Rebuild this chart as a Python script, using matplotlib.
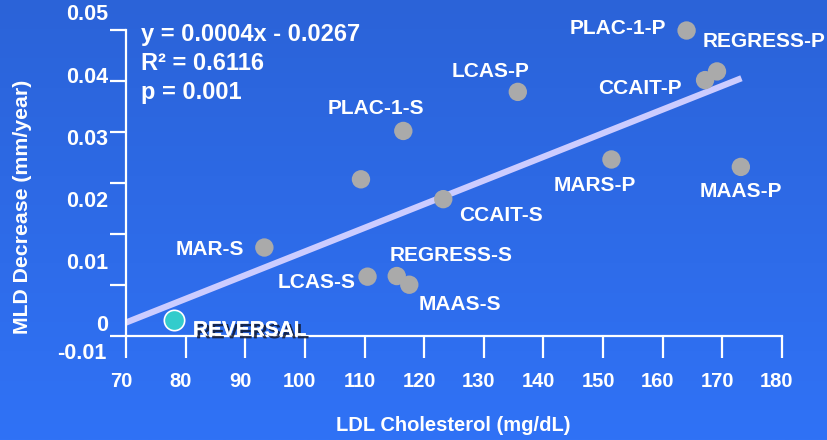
import numpy as np
import matplotlib
matplotlib.use("Agg")
import matplotlib.pyplot as plt
import matplotlib.patheffects as pe
from matplotlib.transforms import ScaledTranslation

plt.rcParams['font.family'] = ['Liberation Sans', 'DejaVu Sans']
plt.rcParams['font.weight'] = 'bold'

# LDL cholesterol (mg/dL) and MLD decrease (mm/year)
names = ['PLAC-1-P', 'REGRESS-P', 'CCAIT-P', 'MARS-P', 'MAAS-P', 'LCAS-P',
         'PLAC-1-S', '', 'CCAIT-S', 'MAR-S', 'LCAS-S', 'REGRESS-S', 'MAAS-S']
ldl = [164.0, 169.1, 167.1, 151.4, 173.1, 135.7,
       116.5, 109.4, 123.2, 93.2, 110.5, 115.4, 117.5]
mld = [0.0475, 0.0409, 0.0395, 0.0267, 0.0255, 0.0376,
       0.0313, 0.0235, 0.0203, 0.0125, 0.0078, 0.0079, 0.0065]

reversal_ldl = 78.0
reversal_mld = 0.0008

# regression line end points
fit_x = [70, 173.2]
fit_y = [0.0004, 0.0398]

xticks = [70, 80, 90, 100, 110, 120, 130, 140, 150, 160, 170, 180]
ylabels = [0.05, 0.04, 0.03, 0.02, 0.01, 0]

# label offsets from each point (pixels)
offsets = [(-69, 2), (47, 30), (-65, -8), (-17, -26), (0, -25), (-27, 20),
           (-27, 22), (0, 0), (58, -16), (-54, -2), (-51, -6), (54, 21), (51, -20)]

fig = plt.figure(figsize=(8.28, 4.4), dpi=100)

# background gradient
bg = fig.add_axes([0, 0, 1, 1], zorder=-10)
top = np.array([43, 99, 216]) / 255
bot = np.array([48, 114, 246]) / 255
t = np.linspace(0, 1, 256)[:, None]
grad = top[None, :] * (1 - t) + bot[None, :] * t
bg.imshow(grad[:, None, :], aspect='auto', extent=[0, 1, 0, 1])
bg.axis('off')

ax = fig.add_axes([126 / 828, 104 / 440, 656 / 828, 306 / 440])
ax.set_facecolor('none')
ax.set_xlim(70, 180)
ax.set_ylim(-0.00177, 0.04758)

ax.plot(fit_x, fit_y, color='#CCCCFF', lw=4.5, solid_capstyle='butt', zorder=2)
ax.scatter(ldl, mld, s=175, color='#AAAAAA', edgecolors='none', zorder=3, clip_on=False)
ax.scatter([reversal_ldl], [reversal_mld], s=215, color='#33CCCC',
           edgecolors='white', linewidths=1.2, zorder=4)

for n, x, y, (dx, dy) in zip(names, ldl, mld, offsets):
    if n:
        ax.annotate(n, (x, y), xytext=(dx, dy), textcoords='offset pixels',
                    ha='center', va='center', color='white', fontsize=15,
                    fontweight='bold', zorder=5, annotation_clip=False)

ax.annotate('REVERSAL', (reversal_ldl, reversal_mld), xytext=(76, -10),
            textcoords='offset pixels', ha='center', va='center', color='white',
            fontsize=15, fontweight='bold', zorder=5,
            path_effects=[pe.withSimplePatchShadow(offset=(2, -2), shadow_rgbFace='#101830', alpha=0.85),
                          pe.Normal()])

# regression stats
stats = ['y = 0.0004x - 0.0267', 'R² = 0.6116', 'p = 0.001']
for i, s in enumerate(stats):
    fig.text(141 / 828, 1 - (35 + 28.5 * i) / 440, s, color='white', fontsize=17,
             fontweight='bold', va='center')

# axes styling
for side in ['top', 'right']:
    ax.spines[side].set_visible(False)
for side in ['left', 'bottom']:
    ax.spines[side].set_color('white')
    ax.spines[side].set_linewidth(1.6)

ax.set_xticks(xticks)
ax.set_xticklabels([str(v) for v in xticks])
ax.tick_params(axis='x', direction='out', length=16, width=1.6, color='white',
               labelcolor='white', labelsize=14.5, pad=10)
shift = ScaledTranslation(-5 / 100, 0, fig.dpi_scale_trans)
for lab in ax.get_xticklabels():
    lab.set_transform(lab.get_transform() + shift)
    lab.set_fontweight('bold')

ax.set_yticks(np.linspace(-0.00177, 0.04758, 7))
ax.tick_params(axis='y', direction='out', length=11.5, width=1.6, color='white',
               labelleft=False)

ytr = ax.get_yaxis_transform()
for v in ylabels:
    ax.text(-0.0274, v, '0' if v == 0 else '%.2f' % v, transform=ytr, ha='right',
            va='center', color='white', fontsize=15.5, fontweight='bold')
down = ScaledTranslation(0, -28 / 100, fig.dpi_scale_trans)
ax.text(-0.030, 0, '-0.01', transform=ytr + down, ha='right', va='center',
        color='white', fontsize=15.5, fontweight='bold')

fig.text(453 / 828, 1 - 425 / 440, 'LDL Cholesterol (mg/dL)', ha='center', va='center',
         color='white', fontsize=14.5, fontweight='bold')
fig.text(23 / 828, 1 - 207 / 440, 'MLD Decrease (mm/year)', ha='center', va='center',
         rotation=90, color='white', fontsize=15.3, fontweight='bold')

fig.savefig('out.png', dpi=100)
